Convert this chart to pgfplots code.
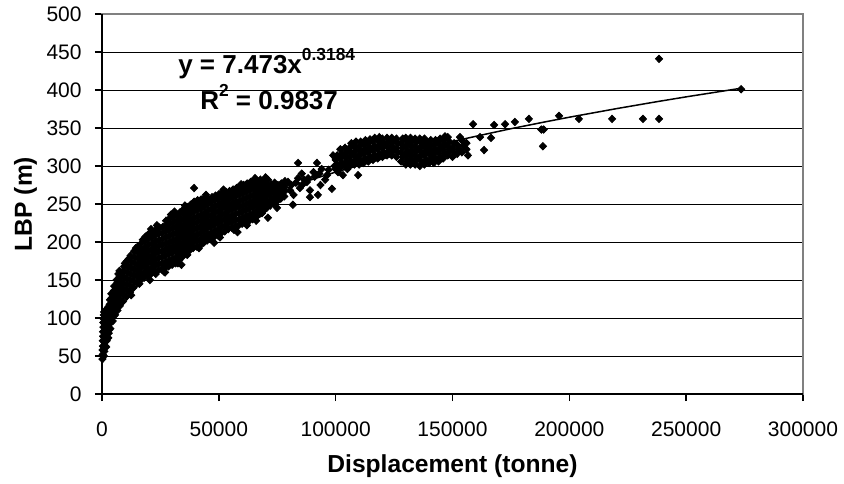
\documentclass[border=0pt]{standalone}
\usepackage{fontspec}
\setmainfont{Liberation Sans}
\usepackage{pgfplots}
\pgfplotsset{compat=1.18}
\begin{document}
\begin{tikzpicture}
\useasboundingbox (-51pt,-44.5pt) rectangle (371pt,197pt);
\begin{axis}[
  name=ax,
  scale only axis, width=350.5pt, height=190pt,
  xmin=0, xmax=300000, ymin=0, ymax=500,
  xtick={0,50000,100000,150000,200000,250000,300000},
  xticklabels={0,50000,100000,150000,200000,250000,300000},
  ytick={0,50,...,500},
  yticklabels={0,50,100,150,200,250,300,350,400,450,500},
  scaled x ticks=false,
  every tick label/.append style={font=\fontsize{10.5}{12}\selectfont},
  ymajorgrids, major grid style={black, line width=0.5pt},
  axis line style={draw=gray, line width=0.9pt},
  tick pos=left, tick align=outside, major tick length=3.5pt,
  tick style={black, line width=0.75pt},
  xticklabel style={anchor=north, inner sep=0pt, yshift=-10.3pt},
  yticklabel style={anchor=east, inner sep=0pt, xshift=-6.5pt},
  xlabel={Displacement (tonne)},
  ylabel={LBP (m)},
  label style={font=\fontsize{12.3}{14}\selectfont\bfseries},
  xlabel style={at={(axis description cs:0.5,-0.2068)}, anchor=base},
  ylabel style={at={(axis description cs:-0.0999,0.5)}, anchor=base},
]
\addplot[only marks, mark=diamond*, mark size=1.85pt, mark options={xscale=1.3}, black] coordinates {
(200,46) (300,52) (250,58) (400,63) (350,70) (500,76) (450,82) (600,88) (550,94) (700,99) (800,104) (900,108)
(800,50) (1000,56) (900,62) (1100,68) (1000,74) (1200,80) (1300,86) (1200,92) (1400,98) (1500,104) (1600,110)
(1800,62) (2000,70) (1900,78) (2100,84) (2200,90) (2000,96) (2300,102) (2400,108) (2500,114)
(2700,74) (2900,80) (2800,88) (3000,94) (3100,100) (3000,106) (3200,112) (3300,118) (3400,124)
(3600,86) (3800,94) (3700,102) (3900,110) (4000,118) (4100,126) (4000,132)
(4600,96) (4800,104) (4700,112) (4900,120) (5000,128) (5100,136) (5200,142)
(5600,104) (5800,112) (5700,120) (5900,128) (6000,136) (6100,144) (6200,150)
(6600,110) (6800,118) (6700,126) (6900,134) (7000,142) (7100,150) (7000,158)
(7600,116) (7800,124) (7700,132) (7900,140) (8000,148) (8100,156)
(9000,122) (9200,130) (9100,138) (9300,146) (9400,154) (9200,162) (9500,168)
(10500,128) (10700,136) (10600,144) (10800,152) (10900,160) (11000,168) (10700,175)
(12000,134) (12200,142) (12100,150) (12300,158) (12400,166) (12500,174) (12200,182)
(13500,140) (13700,148) (13600,156) (13800,164) (13900,172) (14000,180) (13800,188)
(15000,146) (15200,154) (15100,162) (15300,170) (15400,178) (15500,186) (15300,194)
(16500,150) (16700,158) (16600,166) (16800,174) (16900,182) (17000,190) (16800,198)
(18000,153) (18200,161) (18100,169) (18300,177) (18400,185) (18500,193) (18300,201) (18600,207)
(19500,156) (19700,164) (19600,172) (19800,180) (19900,188) (20000,196) (19800,204) (20100,211)
(21000,158) (21200,166) (21100,174) (21300,182) (21400,190) (21500,198) (21300,206) (21600,213)
(22500,161) (22700,169) (22600,177) (22800,185) (22900,193) (23000,201) (22800,209) (23100,216)
(24000,163) (24200,171) (24100,179) (24300,187) (24400,195) (24500,203) (24300,211) (24600,219)
(25500,164) (25700,172) (25600,180) (25800,188) (25900,196) (26000,204) (25800,212) (26100,220)
(27000,166) (27200,174) (27100,182) (27300,190) (27400,198) (27500,206) (27300,214) (27600,222) (27400,228)
(28500,168) (28700,176) (28600,184) (28800,192) (28900,200) (29000,208) (28800,216) (29100,224) (28900,231)
(30000,170) (30200,178) (30100,186) (30300,194) (30400,202) (30500,210) (30300,218) (30600,226) (30400,233)
(31500,172) (31700,180) (31600,188) (31800,196) (31900,204) (32000,212) (31800,220) (32100,228) (31900,236)
(33000,176) (33200,184) (33100,192) (33300,200) (33400,208) (33500,216) (33300,224) (33600,232) (33400,239)
(34500,181) (34700,189) (34600,197) (34800,205) (34900,213) (35000,221) (34800,229) (35100,237) (34900,243)
(36000,185) (36200,193) (36100,201) (36300,209) (36400,217) (36500,225) (36300,233) (36600,241) (36400,246)
(37500,189) (37700,197) (37600,205) (37800,213) (37900,221) (38000,229) (37800,237) (38100,244) (37900,249)
(39000,192) (39200,200) (39100,208) (39300,216) (39400,224) (39500,232) (39300,240) (39600,247) (39400,253)
(39400,271)
(40500,194) (40700,202) (40600,210) (40800,218) (40900,226) (41000,234) (40800,242) (41100,249) (40900,255)
(42000,196) (42200,204) (42100,212) (42300,220) (42400,228) (42500,236) (42300,244) (42600,251) (42400,256)
(43500,199) (43700,207) (43600,215) (43800,223) (43900,231) (44000,239) (43800,247) (44100,253) (43900,258)
(45000,202) (45200,210) (45100,218) (45300,226) (45400,234) (45500,242) (45300,250) (45600,256)
(46500,204) (46700,212) (46600,220) (46800,228) (46900,236) (47000,244) (46800,252) (47100,259)
(48000,207) (48200,215) (48100,223) (48300,231) (48400,239) (48500,247) (48300,255) (48600,261)
(49500,209) (49700,217) (49600,225) (49800,233) (49900,241) (50000,249) (49800,257) (50100,263)
(51000,212) (51200,220) (51100,228) (51300,236) (51400,244) (51500,252) (51300,259) (51600,265)
(52500,214) (52700,222) (52600,230) (52800,238) (52900,246) (53000,254) (52800,261) (53100,266)
(54000,217) (54200,225) (54100,233) (54300,241) (54400,249) (54500,257) (54300,263) (54600,267)
(55500,219) (55700,227) (55600,235) (55800,243) (55900,251) (56000,259) (55800,265) (56100,269)
(57000,221) (57200,229) (57100,237) (57300,245) (57400,253) (57500,261) (57300,267) (57600,271)
(58500,222) (58700,230) (58600,238) (58800,246) (58900,254) (59000,262) (58800,268) (59100,273)
(60000,224) (60200,232) (60100,240) (60300,248) (60400,256) (60500,264) (60300,270) (60600,275)
(61500,226) (61700,234) (61600,242) (61800,250) (61900,258) (62000,266) (61800,272) (62100,277)
(63000,228) (63200,236) (63100,244) (63300,252) (63400,260) (63500,268) (63300,274) (63600,279)
(64500,230) (64700,238) (64600,246) (64800,254) (64900,262) (65000,270) (64800,276) (65100,281)
(66000,233) (66200,241) (66100,249) (66300,257) (66400,265) (66500,273) (66300,279)
(67500,237) (67700,245) (67600,253) (67800,261) (67900,269) (68000,276) (67800,282)
(69000,241) (69200,249) (69100,257) (69300,265) (69400,272) (69500,279)
(70500,245) (70700,253) (70600,261) (70800,268) (70900,275) (71000,282)
(72000,248) (72200,256) (72100,263) (72300,270) (72400,276)
(73500,251) (73700,258) (73600,265) (73800,272) (73900,278)
(75000,254) (75200,261) (75100,268) (75300,275)
(76500,257) (76700,264) (76600,271) (76800,277)
(78000,260) (78200,267) (78100,274) (78300,280)
(12500,130) (16000,145) (23000,158) (26500,161) (32500,172) (36500,183) (41500,192) (50500,206)
(56500,216) (62000,222) (66000,228) (9800,172) (14500,192) (17500,203) (23500,222) (29500,236)
(35500,248) (44500,262) (52000,269) (59500,276) (65500,284) (70000,285) (20500,150) (27000,160)
(48000,199) (58000,213) (34000,170) (7500,162) (11500,178) (21000,217) (31000,240)
(71000,232) (74900,245) (68500,238) (64600,232) (45000,205) (47000,205)
(79600,279) (83900,284) (88200,284) (83900,304) (92000,304) (96300,288) (98900,314) (81700,249)
(89000,259) (92400,262) (89000,268) (93500,275) (98400,270) (84700,271) (87700,279) (80500,268)
(82000,262) (85500,290) (90500,292) (94000,296) (95500,282) (86000,276) (103100,288) (109600,288)
(81000,275) (83000,278) (86500,282) (91000,286) (93000,290) (97000,295) (99500,300) (101000,292) (105000,296)
(104000,323) (113400,330) (119800,332)
(100000,296) (100700,302) (100000,308) (100700,314)
(102000,298) (102700,304) (102000,310) (102700,316) (102000,322)
(104000,300) (104700,306) (104000,312) (104700,318) (104000,324)
(106000,300) (106700,306) (106000,312) (106700,318) (106000,324) (106700,330)
(108000,302) (108700,308) (108000,314) (108700,320) (108000,326) (108700,332)
(110000,302) (110700,308) (110000,314) (110700,320) (110000,326) (110700,332)
(112000,304) (112700,310) (112000,316) (112700,322) (112000,328) (112700,334)
(114000,306) (114700,312) (114000,318) (114700,324) (114000,330) (114700,335)
(116000,308) (116700,314) (116000,320) (116700,326) (116000,332) (116700,337)
(118000,310) (118700,316) (118000,322) (118700,328) (118000,334) (118700,338)
(120000,312) (120700,318) (120000,324) (120700,330) (120000,336)
(122000,314) (122700,320) (122000,326) (122700,332) (122000,337)
(124000,314) (124700,320) (124000,326) (124700,332) (124000,337)
(126000,312) (126700,318) (126000,324) (126700,330) (126000,336)
(128000,306) (128700,312) (128000,318) (128700,324) (128000,330) (128700,336)
(130000,302) (130700,308) (130000,314) (130700,320) (130000,326) (130700,332) (130000,337)
(132000,302) (132700,308) (132000,314) (132700,320) (132000,326) (132700,332) (132000,337)
(134000,302) (134700,308) (134000,314) (134700,320) (134000,326) (134700,332) (134000,336)
(136000,300) (136700,306) (136000,312) (136700,318) (136000,324) (136700,330) (136000,336)
(138000,302) (138700,308) (138000,314) (138700,320) (138000,326) (138700,332) (138000,336)
(140000,304) (140700,310) (140000,316) (140700,322) (140000,328) (140700,334)
(142000,304) (142700,310) (142000,316) (142700,322) (142000,328) (142700,334)
(144000,306) (144700,312) (144000,318) (144700,324) (144000,330) (144700,336)
(146000,310) (146700,316) (146000,322) (146700,328) (146000,334) (146800,339)
(148000,314) (148700,320) (148000,326) (148700,332) (148000,338)
(150000,312) (150700,318) (150000,324) (150700,330)
(152000,316) (152700,322) (152000,328) (153200,338)
(154000,318) (154700,326) (154000,334) (156600,314) (156000,322) (156000,330)
(158800,355) (161800,338) (163500,321) (166500,337) (167800,354) (172500,355) (176700,358)
(182700,362) (188000,348) (189000,348) (188700,326) (195600,366) (204100,362) (218300,362)
(231500,362) (238400,362) (238400,441) (273500,401)
};
\addplot[black, line width=0.75pt] coordinates {
(300,45.9) (500,54.1) (1000,67.4) (2000,84.1) (3000,95.6) (5000,112.5) (7000,125.2)
(10000,140.3) (15000,159.7) (20000,175.0) (25000,187.9) (30000,199.1) (40000,218.2)
(50000,234.2) (60000,248.3) (70000,260.7) (80000,272.1) (90000,282.4) (100000,292.0)
(120000,309.5) (130000,317.5) (150000,332.3) (160000,339.1) (175000,349.1) (190000,358.3)
(200000,364.2) (220000,375.4) (237000,384.4) (250000,391.0) (273000,402.1)
};
\node[anchor=base west, font=\fontsize{13}{15}\selectfont\bfseries, inner sep=0pt]
  at (axis cs:32500,422) {y = 7.473x\raisebox{6.5pt}{\fontsize{8.7}{10}\selectfont 0.3184}};
\node[anchor=base west, font=\fontsize{13}{15}\selectfont\bfseries, inner sep=0pt]
  at (axis cs:41900,373.7) {R\raisebox{6.5pt}{\fontsize{8.7}{10}\selectfont 2} = 0.9837};
\end{axis}
\draw[black, line width=1pt] (ax.north west) -- (ax.south west) -- (ax.south east);
\end{tikzpicture}
\end{document}
